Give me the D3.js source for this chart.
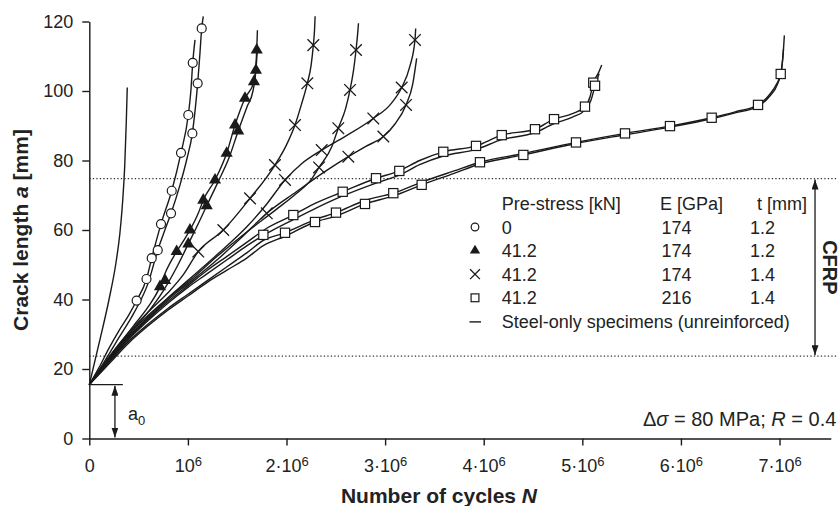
<!DOCTYPE html>
<html>
<head>
<meta charset="utf-8">
<script src="https://cdn.jsdelivr.net/npm/d3@7"></script>
<style>
  body { margin: 0; background: #fff; }
  svg { font-family: "Liberation Sans", Arial, sans-serif; }
</style>
</head>
<body>
<div id="viz"></div>
<script>
// N in millions of cycles, a in mm
const N_TICKS = [0, 1, 2, 3, 4, 5, 6, 7];
const A_TICKS = [0, 20, 40, 60, 80, 100, 120];

const a0 = 15.5;
const cfrpTop = 74.8;
const cfrpBottom = 23.7;

const steelCurve = [[0,15.5],[0.1,27.5],[0.2,40],[0.27,50.5],[0.31,59],[0.34,69],[0.36,79],[0.375,91],[0.385,101]];

// pre-stress 0 kN, E 174, t 1.2
const circleCurveA = [[0,15.5],[0.1,20.5],[0.2,26],[0.3,31],[0.4,35.5],[0.48,39.7],[0.58,45.9],[0.633,51.9],[0.727,61.7],[0.836,71.3],[0.93,82.2],[1.004,93.1],[1.03,100],[1.049,108.1],[1.072,114.7]];
const circleMarksA = [[0.48,39.7],[0.58,45.9],[0.633,51.9],[0.727,61.7],[0.836,71.3],[0.93,82.2],[1.004,93.1],[1.049,108.1]];
const circleCurveB = [[0,15.5],[0.15,22],[0.3,29],[0.45,36],[0.6,45],[0.694,54.2],[0.76,59.5],[0.829,64.8],[0.92,73],[0.99,80.5],[1.045,87.8],[1.075,95],[1.099,102.2],[1.12,110],[1.14,118],[1.156,121.5]];
const circleMarksB = [[0.694,54.2],[0.829,64.8],[1.045,87.8],[1.099,102.2],[1.14,118]];

// pre-stress 41.2 kN, E 174, t 1.2
const triCurveA = [[0,15.5],[0.15,21.5],[0.3,27],[0.45,32.5],[0.6,38],[0.717,43.7],[0.768,47.5],[0.886,53.8],[0.971,57.6],[1.021,60],[1.105,64.8],[1.156,68.6],[1.275,74.4],[1.393,82.1],[1.478,90.2],[1.579,97.9],[1.67,102.7],[1.698,111.8],[1.705,117.5]];
const triMarksA = [[0.717,43.7],[0.886,53.8],[1.021,60],[1.156,68.6],[1.275,74.4],[1.393,82.1],[1.478,90.2],[1.579,97.9],[1.67,102.7],[1.698,111.8]];
const triCurveB = [[0,15.5],[0.15,21],[0.3,26.5],[0.45,31.5],[0.6,36.5],[0.75,42.5],[0.9,50],[1.004,56],[1.1,61.5],[1.191,67],[1.3,73.5],[1.42,81],[1.51,88.5],[1.6,95.5],[1.66,100],[1.69,106],[1.705,112.5]];
const triMarksB = [[0.768,45.5],[1.004,56],[1.191,67],[1.51,88.5],[1.69,106]];

// pre-stress 41.2 kN, E 174, t 1.4
const crossCurve1 = [[0,15.5],[0.2,23.5],[0.4,30.5],[0.6,36.5],[0.8,42],[0.95,47],[1.105,53.8],[1.359,60],[1.63,69.1],[1.883,78.7],[2.0,84.5],[2.086,90.2],[2.15,96],[2.211,102.2],[2.25,107.5],[2.272,113.2],[2.285,118],[2.29,121.5]];
const crossMarks1 = [[1.105,53.8],[1.359,60],[1.63,69.1],[1.883,78.7],[2.086,90.2],[2.211,102.2],[2.272,113.2]];
const crossCurve2 = [[0,15.5],[0.2,23],[0.4,30],[0.6,35.5],[0.8,40.5],[1.0,45],[1.3,52.5],[1.6,59.5],[1.9,66],[2.1,70.5],[2.25,74.5],[2.33,78],[2.46,84],[2.525,89.3],[2.6,95],[2.644,100.3],[2.68,106],[2.705,111.8],[2.72,116],[2.73,119.5]];
const crossMarks2 = [[2.33,78],[2.525,89.3],[2.644,100.3],[2.705,111.8]];
const crossCurve3 = [[0,15.5],[0.2,23],[0.4,29.5],[0.6,35],[0.8,40.5],[1.0,45.5],[1.3,53],[1.6,61],[1.8,67.5],[1.985,74.4],[2.15,79],[2.357,83],[2.6,87],[2.88,92.1],[3.05,96],[3.168,101],[3.25,107],[3.303,114.7],[3.31,118]];
const crossMarks3 = [[1.985,74.4],[2.357,83],[2.88,92.1],[3.168,101],[3.303,114.7]];
const crossCurve4 = [[0,15.5],[0.2,22.5],[0.4,29],[0.6,34.5],[0.8,40],[1.0,44.5],[1.3,51.5],[1.55,58],[1.8,64.8],[2.1,71],[2.4,77],[2.627,81.1],[2.8,84],[2.982,86.9],[3.1,90.5],[3.212,96],[3.28,102],[3.32,109.4]];
const crossMarks4 = [[1.8,64.8],[2.627,81.1],[2.982,86.9],[3.212,96]];

// pre-stress 41.2 kN, E 216, t 1.4
const squareCurve1 = [[0,15.5],[0.2,22.5],[0.4,29],[0.6,34.5],[0.8,39.5],[1.0,44],[1.2,48.5],[1.4,52.5],[1.6,56.5],[1.8,60.5],[2.069,64.3],[2.3,67.8],[2.57,71],[2.908,74.9],[3.144,77],[3.35,80],[3.59,82.5],[3.922,84.2],[4.183,87.3],[4.52,89],[4.713,91.9],[4.9,93.5],[5.027,95.5],[5.08,98.5],[5.111,102.4],[5.16,105],[5.197,107.5]];
const squareMarks1 = [[2.069,64.3],[2.57,71],[2.908,74.9],[3.144,77],[3.59,82.5],[3.922,84.2],[4.183,87.3],[4.52,89],[4.713,91.9],[5.027,95.5],[5.111,102.4]];
const squareCurve2 = [[0,15.5],[0.2,22],[0.4,28.5],[0.6,34],[0.8,39],[1.0,43.5],[1.2,47.5],[1.4,51.5],[1.6,55.5],[1.8,59],[2.069,63],[2.3,66.3],[2.57,69.8],[2.908,73.5],[3.144,75.8],[3.35,78.8],[3.59,81.3],[3.922,83.2],[4.183,86],[4.52,88],[4.713,90.6],[4.9,92.5],[5.027,94.5],[5.09,97.5],[5.129,101.5],[5.17,105]];
const squareMarks2 = [[1.765,58.6],[5.129,101.5]];
const squareCurve3 = [[0,15.5],[0.2,22],[0.4,28],[0.6,33],[0.8,37.5],[1.0,41.5],[1.2,45.5],[1.4,49.5],[1.6,53.5],[1.765,57],[1.985,59.2],[2.289,63],[2.502,65],[2.796,68.5],[3.083,70.6],[3.371,73.8],[3.7,77],[3.962,79.5],[4.402,82],[4.936,85.2],[5.433,87.8],[5.889,89.9],[6.312,92.3],[6.55,94],[6.782,96],[6.9,99],[6.97,102],[7.012,104.9],[7.035,110],[7.049,116]];
const squareMarks3 = [[1.985,59.2],[2.502,65],[3.083,70.6],[3.962,79.5],[4.936,85.2],[5.433,87.8],[5.889,89.9],[6.312,92.3],[6.782,96],[7.012,104.9]];
const squareCurve4 = [[0,15.5],[0.2,21.5],[0.4,27.5],[0.6,32.5],[0.8,37],[1.0,41],[1.2,45],[1.4,48.5],[1.6,52],[1.765,55.5],[1.985,58.2],[2.289,62.3],[2.502,64],[2.796,67.5],[3.083,69.8],[3.371,73],[3.7,76.3],[3.962,79],[4.402,81.6],[4.936,84.9],[5.433,87.4],[5.889,89.6],[6.312,92],[6.55,93.7],[6.782,95.6],[6.9,98.5],[6.98,102],[7.02,106],[7.04,112]];
const squareMarks4 = [[2.289,62.3],[2.796,67.5],[3.371,73],[4.402,81.6]];

const legendHeader = ["Pre-stress [kN]", "E [GPa]", "t [mm]"];
const legendSymbols = ["circle", "triangle", "cross", "square"];
const legendPrestress = ["0", "41.2", "41.2", "41.2"];
const legendModulus = ["174", "174", "174", "216"];
const legendThickness = ["1.2", "1.2", "1.4", "1.4"];
const steelLabel = "Steel-only specimens (unreinforced)";

const cfrpArrowN = 7.36;
const a0ArrowN = 0.26;
const a0LineEndN = 0.34;

const width = 840, height = 506;
const ink = "#1a1a1a";

const x = d3.scaleLinear().domain([0, 7.52]).range([89.3, 830.8]);
const y = d3.scaleLinear().domain([0, 120]).range([438.5, 21.5]);

const svg = d3.select("#viz").append("svg")
  .attr("width", width)
  .attr("height", height);

const defs = svg.append("defs");
defs.append("marker")
  .attr("id", "arrow")
  .attr("viewBox", "0 0 10 7")
  .attr("refX", 10).attr("refY", 3.5)
  .attr("markerWidth", 10).attr("markerHeight", 7)
  .attr("markerUnits", "userSpaceOnUse")
  .attr("orient", "auto-start-reverse")
  .append("path")
  .attr("d", "M0,0L10,3.5L0,7Z")
  .attr("fill", ink);

// dotted CFRP limits
[cfrpTop, cfrpBottom].forEach(a => {
  svg.append("line")
    .attr("x1", x(0)).attr("x2", 838)
    .attr("y1", y(a)).attr("y2", y(a))
    .attr("stroke", "#333")
    .attr("stroke-width", 1.3)
    .attr("stroke-dasharray", "1.3,2.2");
});

// axes
const xAxis = svg.append("g")
  .attr("transform", `translate(0,${y(0)})`)
  .call(d3.axisBottom(x).tickValues(N_TICKS).tickSize(7).tickSizeOuter(0).tickPadding(14));
const yAxis = svg.append("g")
  .attr("transform", `translate(${x(0)},0)`)
  .call(d3.axisLeft(y).tickValues(A_TICKS).tickSize(7).tickSizeOuter(0).tickPadding(9));

[xAxis, yAxis].forEach(g => {
  g.attr("font-family", null).attr("font-size", 18).attr("color", ink);
  g.selectAll("path, line").attr("stroke-width", 1.4);
  g.selectAll("text").attr("fill", "#222");
});

xAxis.selectAll(".tick text").each(function(d) {
  const t = d3.select(this);
  t.text(null);
  if (d === 0) { t.text("0"); return; }
  t.append("tspan").text(d === 1 ? "10" : d + "\u00b710");
  t.append("tspan").attr("dy", "-0.45em").attr("font-size", "13px").text("6");
});

// curves
const line = d3.line()
  .x(d => x(d[0]))
  .y(d => y(d[1]))
  .curve(d3.curveMonotoneX);

const curves = [
  steelCurve,
  circleCurveA, circleCurveB,
  triCurveA, triCurveB,
  crossCurve1, crossCurve2, crossCurve3, crossCurve4,
  squareCurve1, squareCurve2, squareCurve3, squareCurve4
];

svg.append("g").selectAll("path")
  .data(curves)
  .join("path")
    .attr("d", line)
    .attr("fill", "none")
    .attr("stroke", ink)
    .attr("stroke-width", 1.4);

// markers
function drawSymbol(g, type, cx, cy, s) {
  if (type === "circle") {
    g.append("circle").attr("cx", cx).attr("cy", cy).attr("r", 4.5 * s)
      .attr("fill", "#fff").attr("stroke", ink).attr("stroke-width", 1.2);
  } else if (type === "triangle") {
    g.append("path").attr("transform", `translate(${cx},${cy})`)
      .attr("d", d3.symbol(d3.symbolTriangle, 64 * s * s)())
      .attr("fill", ink);
  } else if (type === "cross") {
    const r = 5.8 * s;
    g.append("path").attr("transform", `translate(${cx},${cy})`)
      .attr("d", `M${-r},${-r}L${r},${r}M${-r},${r}L${r},${-r}`)
      .attr("stroke", ink).attr("stroke-width", 1.3).attr("fill", "none");
  } else if (type === "square") {
    const h = 4.6 * s;
    g.append("rect").attr("x", cx - h).attr("y", cy - h)
      .attr("width", 2 * h).attr("height", 2 * h)
      .attr("fill", "#fff").attr("stroke", ink).attr("stroke-width", 1.2);
  }
}

const markSets = [
  ["circle", circleMarksA], ["circle", circleMarksB],
  ["triangle", triMarksA], ["triangle", triMarksB],
  ["cross", crossMarks1], ["cross", crossMarks2], ["cross", crossMarks3], ["cross", crossMarks4],
  ["square", squareMarks1], ["square", squareMarks2], ["square", squareMarks3], ["square", squareMarks4]
];
const markG = svg.append("g");
markSets.forEach(([type, pts]) => {
  pts.forEach(p => drawSymbol(markG, type, x(p[0]), y(p[1]), 1));
});

// a0 annotation
svg.append("line")
  .attr("x1", x(0)).attr("x2", x(a0LineEndN))
  .attr("y1", y(a0)).attr("y2", y(a0))
  .attr("stroke", ink).attr("stroke-width", 1.3);
svg.append("line")
  .attr("x1", x(a0ArrowN)).attr("x2", x(a0ArrowN))
  .attr("y1", y(a0) + 1).attr("y2", y(0) - 1)
  .attr("stroke", ink).attr("stroke-width", 1.3)
  .attr("marker-start", "url(#arrow)")
  .attr("marker-end", "url(#arrow)");
const a0Text = svg.append("text")
  .attr("x", x(a0ArrowN) + 13).attr("y", 420)
  .attr("font-size", 18).attr("fill", "#222");
a0Text.append("tspan").text("a");
a0Text.append("tspan").attr("dy", 5).attr("font-size", 13).text("0");

// CFRP arrow
svg.append("line")
  .attr("x1", x(cfrpArrowN)).attr("x2", x(cfrpArrowN))
  .attr("y1", y(cfrpTop) + 1).attr("y2", y(cfrpBottom) - 1)
  .attr("stroke", ink).attr("stroke-width", 1.3)
  .attr("marker-start", "url(#arrow)")
  .attr("marker-end", "url(#arrow)");
svg.append("text")
  .attr("transform", `translate(823,${(y(cfrpTop) + y(cfrpBottom)) / 2}) rotate(90)`)
  .attr("text-anchor", "middle")
  .attr("font-size", 20)
  .attr("font-weight", "bold")
  .attr("fill", "#222")
  .text("CFRP");

// legend
const legend = svg.append("g").attr("font-size", 18).attr("fill", "#222");
const colX = [501.7, 660, 757];
const valX = [501.7, 661.5, 750];
const symX = 475;
legendHeader.forEach((h, i) => {
  legend.append("text").attr("x", colX[i]).attr("y", 210).text(h);
});
legendSymbols.forEach((s, i) => {
  const by = 233.5 + i * 23.6;
  drawSymbol(legend, s, symX, by - 6.5, 0.85);
  legend.append("text").attr("x", valX[0]).attr("y", by).text(legendPrestress[i]);
  legend.append("text").attr("x", valX[1]).attr("y", by).text(legendModulus[i]);
  legend.append("text").attr("x", valX[2]).attr("y", by).text(legendThickness[i]);
});
const steelY = 233.5 + 4 * 23.6;
legend.append("line")
  .attr("x1", symX - 5.5).attr("x2", symX + 6)
  .attr("y1", steelY - 6).attr("y2", steelY - 6)
  .attr("stroke", ink).attr("stroke-width", 1.4);
legend.append("text").attr("x", valX[0]).attr("y", steelY).text(steelLabel);

// load annotation
const load = svg.append("text")
  .attr("x", 643).attr("y", 426)
  .attr("font-size", 20).attr("fill", "#222");
load.append("tspan").text("\u0394");
load.append("tspan").attr("font-style", "italic").text("\u03c3");
load.append("tspan").text(" = 80 MPa; ");
load.append("tspan").attr("font-style", "italic").text("R");
load.append("tspan").text(" = 0.4");

// axis titles
const yTitle = svg.append("text")
  .attr("transform", "translate(28,230) rotate(-90)")
  .attr("text-anchor", "middle")
  .attr("font-size", 21)
  .attr("font-weight", "bold")
  .attr("fill", "#222");
yTitle.append("tspan").text("Crack length ");
yTitle.append("tspan").attr("font-style", "italic").text("a");
yTitle.append("tspan").text(" [mm]");

const xTitle = svg.append("text")
  .attr("x", 439).attr("y", 503)
  .attr("text-anchor", "middle")
  .attr("font-size", 21)
  .attr("font-weight", "bold")
  .attr("fill", "#222");
xTitle.append("tspan").text("Number of cycles ");
xTitle.append("tspan").attr("font-style", "italic").text("N");
</script>
</body>
</html>
